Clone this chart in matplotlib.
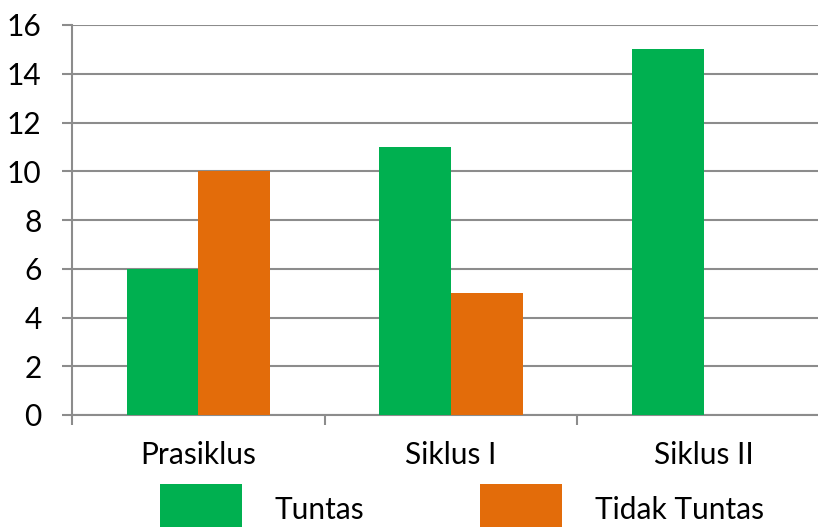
import matplotlib
matplotlib.use("Agg")
import matplotlib.pyplot as plt
import numpy as np
from matplotlib.ticker import FixedLocator

categories = ["Prasiklus", "Siklus I", "Siklus II"]
tuntas = [6, 11, 15]
tidak_tuntas = [10, 5, 0]
series_names = ["Tuntas", "Tidak Tuntas"]

GREEN = "#00B050"
ORANGE = "#E36C0A"
GRID = "#8C8C8C"

plt.rcParams["font.family"] = ["Lato", "DejaVu Sans"]
plt.rcParams["font.size"] = 21.5

fig = plt.figure(figsize=(8.18, 5.27), dpi=100)
# plot area runs a little past the right edge of the image, like the source
ax = fig.add_axes([72 / 818, 112 / 527, 758 / 818, 390 / 527])

x = np.arange(len(categories))
w = 0.283
ax.bar(x - w / 2, tuntas, w, color=GREEN, label=series_names[0], zorder=3)
ax.bar(x + w / 2, tidak_tuntas, w, color=ORANGE, label=series_names[1], zorder=3)

ax.set_xlim(-0.5, len(categories) - 0.5)
ax.set_ylim(0, 16)
ax.set_yticks(np.arange(0, 17, 2))
ax.yaxis.grid(True, color=GRID, linewidth=1.5, zorder=0)
ax.set_axisbelow(True)

ax.set_xticks(x)
ax.set_xticklabels(categories)
ax.xaxis.set_minor_locator(FixedLocator(np.arange(-0.5, len(categories), 1)))
ax.tick_params(axis="x", which="major", length=0, pad=19)
ax.tick_params(axis="x", which="minor", length=7, width=1.5, color=GRID, direction="out")
ax.tick_params(axis="y", length=7, width=1.5, color=GRID, direction="out", pad=15)

for side in ["top", "right"]:
    ax.spines[side].set_visible(False)
for side in ["left", "bottom"]:
    ax.spines[side].set_color(GRID)
    ax.spines[side].set_linewidth(1.5)

# legend squares run off the bottom edge in the source
fig.legend(loc="lower left", bbox_to_anchor=(160 / 818, -8 / 527), ncol=2,
           frameon=False, borderpad=0, borderaxespad=0,
           handlelength=2.74, handleheight=2.25, handletextpad=1.1,
           columnspacing=3.87)

fig.savefig("out.png", dpi=100)
